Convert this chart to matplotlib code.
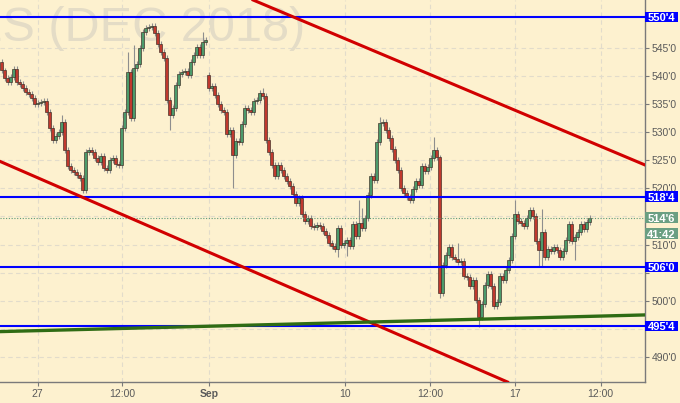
import matplotlib
matplotlib.use('Agg')
import numpy as np
import matplotlib.pyplot as plt
import matplotlib.transforms as mtransforms
from matplotlib.patches import Rectangle

plt.rcParams['font.family'] = ['Liberation Sans', 'DejaVu Sans']

# 2-hour bars, closes
closes = [
    541.0, 539.6, 538.9, 539.8, 541.2, 538.9, 538.6, 537.9, 537.2, 536.8,
    536.1, 535.0, 535.2, 535.4, 535.6, 533.6, 530.7, 528.6, 529.3, 530.0,
    531.8, 526.8, 524.0, 523.3, 522.9, 522.4, 521.8, 519.7, 526.5, 526.8,
    526.5, 525.4, 524.7, 525.8, 523.6, 523.3, 525.0, 525.4, 524.3, 524.2,
    530.7, 533.6, 540.7, 532.5, 541.4, 542.1, 545.0, 547.8, 548.5, 548.7,
    548.9, 547.7, 545.7, 544.3, 543.2, 535.7, 533.1, 534.3, 538.4, 540.4,
    540.7, 540.9, 540.2, 542.5, 543.7, 545.2, 543.7, 546.0, 546.4, 537.9,
    538.2, 536.6, 535.0, 534.0, 533.6, 529.7, 530.4, 525.9, 528.4, 528.2,
    531.5, 534.3, 534.0, 533.6, 535.5, 535.7, 537.0, 536.4, 528.6, 526.5,
    524.2, 522.2, 524.2, 523.3, 522.2, 521.3, 520.4, 519.0, 517.4, 518.3,
    515.4, 514.2, 514.7, 513.3, 513.1, 513.5, 513.3, 512.4, 511.7, 510.3,
    509.7, 509.2, 512.9, 509.9, 510.3, 510.8, 509.7, 513.7, 511.5, 513.8,
    512.9, 514.7, 518.8, 522.2, 521.5, 528.2, 531.6, 531.8, 530.4, 529.0,
    527.0, 525.0, 523.3, 520.1, 519.2, 518.5, 517.9, 519.9, 521.3, 520.6,
    524.0, 523.1, 523.8, 525.4, 526.8, 525.5, 501.4, 506.4, 508.1, 509.6,
    507.8, 507.4, 506.9, 507.1, 504.4, 504.2, 502.6, 503.7, 500.1, 497.1,
    499.4, 502.8, 504.8, 502.6, 499.1, 499.8, 504.4, 503.7, 505.5, 507.2,
    511.5, 515.4, 514.2, 513.8, 513.3, 514.7, 516.1, 515.1, 510.6, 509.0,
    512.2, 507.8, 509.2, 508.8, 509.6, 509.0, 507.8, 508.8, 510.8, 513.7,
    510.6, 511.3, 512.2, 513.7, 512.8, 514.0, 514.75,
]
# opens that differ from the previous close (session gap)
open_gaps = {0: 542.5, 69: 540.2}
# long wicks
wick_highs = {20: 533.1, 42: 544.3, 44: 545.5, 50: 549.5, 67: 547.8, 87: 537.9,
              119: 517.9, 120: 516.5, 126: 532.7, 144: 529.1, 150: 510.0,
              152: 510.2, 171: 517.9, 180: 516.4}
wick_lows = {27: 519.2, 56: 530.4, 77: 520.1, 112: 507.8, 115: 507.9,
             146: 500.5, 159: 495.4, 179: 506.0, 180: 506.2, 191: 507.2}

levels = [550.5, 518.5, 506.0, 495.5]
level_labels = ["550'4", "518'4", "506'0", "495'4"]
last_price = 514.75
last_label = "514'6"
timer_label = "41:42"

tick_pos = [12, 40.2, 69.2, 114.5, 142.8, 171.2, 199.7]
tick_labels = ['27', '12:00', 'Sep', '10', '12:00', '17', '12:00']
price_ticks = list(range(490, 550, 5))
hidden_ticks = [495, 505, 515]  # covered by the price tags

# trend lines: two anchor points (bar, price)
upper_red = [(84, 553.5), (213, 524.5)]
lower_red = [(-0.5, 524.8), (166.2, 486.1)]
green_line = [(-0.5, 494.5), (213.8, 497.46)]

bg = '#fdf1cf'
x = np.arange(len(closes))
opens = [open_gaps.get(i, closes[i - 1] if i else closes[0]) for i in range(len(closes))]
opens = np.array(opens)
c = np.array(closes)
highs = np.maximum(opens, c) + 0.5
lows = np.minimum(opens, c) - 0.5
for k, v in wick_highs.items():
    highs[k] = max(highs[k], v)
for k, v in wick_lows.items():
    lows[k] = min(lows[k], v)

fig = plt.figure(figsize=(6.8, 4.03), dpi=100, facecolor=bg)
ax = fig.add_axes([0, 21 / 403, 645 / 680, 382 / 403], facecolor=bg)

ax.text(0.473, 0.893, 'ES (DEC 2018)', transform=ax.transAxes, ha='right',
        va='baseline', fontsize=35, color='#e4dcc6', zorder=0)

up = c >= opens
body_col = np.where(up, '#4c9a6b', '#c0392e')
ax.vlines(x, lows, highs, color='#8e8e8e', lw=0.8, zorder=2)
ax.bar(x, np.maximum(np.abs(c - opens), 0.15), bottom=np.minimum(opens, c),
       width=0.75, color=body_col, edgecolor='#3a2a22', lw=0.45, zorder=3)

ax.axhline(last_price, color='#5f9a7a', lw=0.8, ls=(0, (1, 1.5)), zorder=3)
for lv in levels:
    ax.axhline(lv, color='#0000ff', lw=1.5, zorder=4)
ax.axline(*upper_red, color='#d10000', lw=2.2, zorder=4)
ax.axline(*lower_red, color='#d10000', lw=2.2, zorder=4)
ax.axline(*green_line, color='#2f6c14', lw=2.4, zorder=4)

ax.set_xlim(-0.5, 214.5)
ax.set_ylim(485.53, 553.53)

ax.set_xticks(tick_pos)
ax.set_xticklabels(tick_labels)
ax.get_xticklabels()[2].set_fontweight('bold')
ax.set_yticks(price_ticks)
ax.set_yticklabels(['' if p in hidden_ticks else f"{p}'0" for p in price_ticks])
ax.yaxis.tick_right()
ax.tick_params(axis='both', colors='#7a7a7a', labelcolor='#5a5a5a',
               labelsize=7.5, length=3, width=0.8, pad=2)
ax.grid(True, color='#e2dccb', lw=0.8, ls=(0, (4, 3)))
ax.set_axisbelow(True)
for s in ['top', 'left']:
    ax.spines[s].set_visible(False)
for s in ['right', 'bottom']:
    ax.spines[s].set_color('#7a7a7a')
    ax.spines[s].set_linewidth(1.0)

trans = mtransforms.blended_transform_factory(ax.transAxes, ax.transData)
box_w = 33 / 645
box_h = 1.95


def tag(y, text, color, dy=0.0):
    ax.add_patch(Rectangle((1.0, y + dy - box_h / 2), box_w, box_h, transform=trans,
                           fc=color, ec='none', clip_on=False, zorder=6))
    ax.text(1.0 + box_w / 2, y + dy, text, transform=trans, ha='center',
            va='center_baseline', color='white', fontsize=8, fontweight='bold',
            clip_on=False, zorder=7)


for lv, lab in zip(levels, level_labels):
    tag(lv, lab, '#0000ff')
tag(last_price, last_label, '#6a9f82')
tag(last_price, timer_label, '#6a9f82', dy=-2.8)

fig.savefig('out.png', dpi=100, facecolor=bg)
